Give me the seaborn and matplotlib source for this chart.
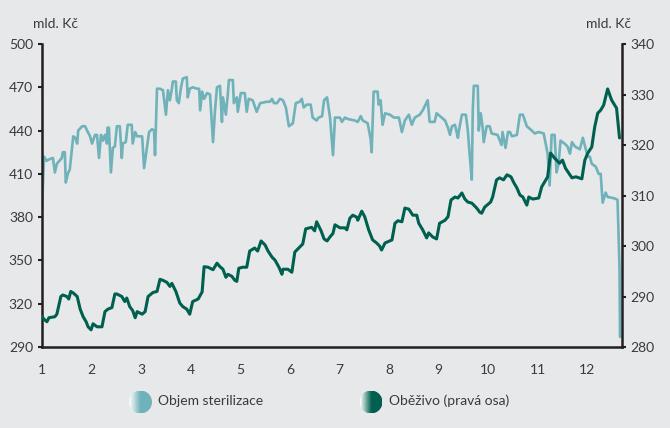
import numpy as np
import pandas as pd
import matplotlib
matplotlib.use("Agg")
import matplotlib.pyplot as plt
from matplotlib.patches import Circle
from matplotlib.colors import LinearSegmentedColormap
import seaborn as sns

# ---- data ----
steril_x = [1.00, 1.04, 1.09, 1.14, 1.22, 1.26, 1.30, 1.40, 1.42, 1.46, 1.48, 1.52, 1.56, 1.63, 1.67,
            1.71, 1.73, 1.81, 1.87, 1.91, 1.97, 2.01, 2.07, 2.11, 2.15, 2.19, 2.23, 2.27, 2.31, 2.32,
            2.35, 2.39, 2.43, 2.47, 2.51, 2.57, 2.61, 2.63, 2.69, 2.73, 2.81, 2.83, 2.88, 2.92, 3.02,
            3.06, 3.12, 3.16, 3.22, 3.26, 3.28, 3.32, 3.38, 3.44, 3.50, 3.54, 3.58, 3.62, 3.64, 3.70,
            3.72, 3.76, 3.80, 3.84, 3.92, 3.94, 3.98, 4.04, 4.13, 4.17, 4.19, 4.23, 4.27, 4.33, 4.39,
            4.45, 4.49, 4.53, 4.59, 4.63, 4.65, 4.71, 4.75, 4.77, 4.85, 4.87, 4.93, 4.95, 5.01, 5.09,
            5.13, 5.17, 5.25, 5.33, 5.40, 5.54, 5.60, 5.64, 5.68, 5.74, 5.80, 5.86, 5.92, 5.98, 6.06,
            6.12, 6.20, 6.24, 6.28, 6.34, 6.42, 6.46, 6.54, 6.58, 6.65, 6.69, 6.75, 6.81, 6.87, 6.91,
            7.01, 7.05, 7.11, 7.17, 7.31, 7.37, 7.43, 7.47, 7.57, 7.63, 7.65, 7.69, 7.77, 7.79, 7.83,
            7.87, 7.92, 8.02, 8.10, 8.20, 8.26, 8.32, 8.40, 8.46, 8.52, 8.62, 8.68, 8.78, 8.82, 8.92,
            8.96, 9.06, 9.13, 9.19, 9.23, 9.27, 9.33, 9.39, 9.41, 9.47, 9.55, 9.59, 9.63, 9.67, 9.69,
            9.71, 9.79, 9.81, 9.85, 9.89, 9.91, 9.97, 10.03, 10.07, 10.19, 10.27, 10.29, 10.35, 10.40,
            10.44, 10.48, 10.58, 10.64, 10.70, 10.78, 10.88, 10.94, 11.02, 11.12, 11.16, 11.20, 11.24,
            11.28, 11.34, 11.38, 11.42, 11.46, 11.54, 11.60, 11.65, 11.69, 11.75, 11.85, 11.91, 11.97,
            12.01, 12.05, 12.09, 12.17, 12.23, 12.27, 12.31, 12.37, 12.41, 12.55, 12.61, 12.65, 12.66]
steril_y = [385, 422, 419, 420, 421, 411, 417, 421, 425, 425, 404, 410, 413, 436, 435,
            431, 440, 443, 443, 440, 436, 431, 437, 437, 421, 437, 433, 437, 431, 442,
            442, 411, 428, 429, 443, 443, 421, 431, 432, 444, 444, 431, 439, 436, 436,
            414, 429, 439, 441, 440, 423, 469, 469, 468, 451, 468, 461, 469, 474, 474,
            461, 459, 469, 476, 477, 463, 469, 470, 469, 469, 454, 467, 462, 466, 465,
            432, 454, 470, 471, 446, 463, 451, 466, 475, 475, 459, 463, 453, 466, 466,
            453, 462, 461, 453, 459, 460, 460, 462, 459, 459, 462, 461, 456, 443, 445,
            459, 460, 462, 456, 458, 458, 449, 447, 449, 450, 461, 463, 449, 423, 449,
            449, 446, 449, 448, 447, 446, 450, 447, 445, 434, 425, 467, 467, 458, 461,
            444, 452, 451, 449, 449, 439, 447, 451, 444, 449, 451, 454, 461, 446, 446,
            452, 449, 447, 442, 437, 443, 444, 435, 440, 451, 451, 440, 422, 406, 454,
            471, 471, 440, 452, 442, 432, 443, 443, 438, 437, 430, 439, 428, 439,
            439, 436, 437, 451, 451, 443, 440, 438, 439, 438, 431, 424, 402,
            437, 437, 411, 417, 433, 431, 429, 424, 432, 429, 427, 435, 427,
            422, 422, 417, 415, 410, 410, 390, 397, 394, 393, 392, 345, 297]

obez_x = [1.00, 1.04, 1.10, 1.14, 1.26, 1.30, 1.38, 1.42, 1.50, 1.54, 1.58, 1.63, 1.71, 1.77, 1.83,
          1.89, 1.93, 1.99, 2.03, 2.11, 2.21, 2.27, 2.33, 2.41, 2.47, 2.51, 2.61, 2.67, 2.71, 2.77,
          2.83, 2.88, 2.92, 3.02, 3.08, 3.14, 3.24, 3.32, 3.38, 3.44, 3.52, 3.58, 3.62, 3.70, 3.78,
          3.84, 3.92, 3.98, 4.04, 4.15, 4.23, 4.27, 4.35, 4.45, 4.53, 4.59, 4.65, 4.71, 4.75, 4.83,
          4.89, 4.93, 4.97, 5.05, 5.13, 5.19, 5.29, 5.35, 5.42, 5.50, 5.56, 5.64, 5.70, 5.78, 5.84,
          5.86, 5.96, 6.04, 6.10, 6.20, 6.26, 6.32, 6.44, 6.50, 6.54, 6.63, 6.69, 6.75, 6.81, 6.87,
          6.91, 7.01, 7.11, 7.15, 7.21, 7.27, 7.35, 7.37, 7.45, 7.51, 7.59, 7.67, 7.75, 7.81, 7.85,
          7.92, 8.06, 8.12, 8.18, 8.26, 8.32, 8.40, 8.48, 8.56, 8.60, 8.68, 8.76, 8.80, 8.88, 8.96,
          9.02, 9.13, 9.19, 9.25, 9.33, 9.39, 9.47, 9.53, 9.59, 9.67, 9.77, 9.83, 9.87, 9.93, 10.05,
          10.09, 10.17, 10.23, 10.31, 10.38, 10.46, 10.52, 10.58, 10.64, 10.70, 10.78, 10.82, 10.90,
          11.02, 11.08, 11.14, 11.20, 11.26, 11.34, 11.44, 11.50, 11.56, 11.65, 11.69, 11.77, 11.89,
          11.95, 12.01, 12.09, 12.15, 12.21, 12.27, 12.33, 12.41, 12.49, 12.59, 12.65]
obez_y = [286.1, 285.5, 285.0, 285.8, 286.0, 286.5, 290.0, 290.3, 290.0, 289.5, 291.0, 290.7, 290.0, 287.5, 286.0,
          285.0, 284.0, 283.4, 284.6, 284.0, 284.0, 287.0, 287.5, 287.8, 290.5, 290.5, 290.0, 289.0, 289.7, 288.0,
          287.2, 285.8, 287.0, 286.5, 287.0, 290.0, 290.8, 291.0, 293.4, 293.2, 292.8, 292.0, 292.6, 291.0, 288.7,
          288.0, 287.5, 286.5, 289.0, 289.5, 290.9, 295.9, 295.8, 295.3, 296.6, 295.9, 295.4, 293.8, 294.4, 294.0,
          293.2, 293.0, 295.6, 295.8, 295.8, 299.0, 299.6, 299.0, 301.0, 300.2, 299.0, 297.8, 297.2, 295.8, 294.4,
          295.4, 295.4, 294.8, 298.8, 299.8, 300.4, 303.4, 303.7, 303.0, 304.8, 303.0, 301.4, 301.0, 301.8, 302.5,
          304.2, 303.6, 303.6, 303.2, 305.5, 306.1, 305.7, 305.1, 306.9, 305.8, 303.2, 301.2, 300.6, 300.0, 299.2,
          300.6, 301.2, 304.5, 305.0, 304.8, 307.5, 307.3, 306.1, 306.1, 304.5, 303.2, 301.6, 302.6, 301.8, 301.4,
          304.5, 305.1, 305.8, 309.1, 309.7, 309.5, 310.5, 309.3, 308.7, 308.5, 307.5, 306.7, 306.5, 307.7, 308.7,
          309.7, 313.1, 313.5, 313.1, 314.1, 313.7, 312.5, 311.5, 310.1, 309.7, 308.1, 309.7, 309.3,
          309.5, 311.7, 312.7, 313.7, 318.4, 317.4, 316.4, 317.0, 315.4, 314.1, 313.5, 313.7, 313.3,
          317.0, 318.4, 319.6, 323.6, 326.3, 326.9, 327.9, 331.1, 328.9, 327.3, 321.4]

left_ticks = [290, 320, 350, 380, 410, 440, 470, 500]
right_ticks = [280, 290, 300, 310, 320, 330, 340]
x_ticks = list(range(1, 13))
series_names = ["Objem sterilizace", "Oběživo (pravá osa)"]
unit_label = "mld. Kč"

# ---- style ----
BG = "#e6e8e9"
LIGHT = "#6fb2ba"
DARK = "#00604f"
TXT = "#3a3a3a"
SPINE = "#231f20"

sns.set_theme(style="white")
plt.rcParams["font.family"] = ["Lato", "DejaVu Sans"]
plt.rcParams["figure.facecolor"] = BG
plt.rcParams["axes.facecolor"] = BG

fig = plt.figure(figsize=(6.70, 4.28), dpi=100)
ax = fig.add_axes([42/670, 1 - 347/428, 580/670, 303/428])
ax2 = ax.twinx()

df1 = pd.DataFrame({"x": steril_x, "y": steril_y})
df2 = pd.DataFrame({"x": obez_x, "y": obez_y})
sns.lineplot(data=df1, x="x", y="y", ax=ax, color=LIGHT, lw=1.9,
             estimator=None, sort=False)
sns.lineplot(data=df2, x="x", y="y", ax=ax2, color=DARK, lw=2.2,
             estimator=None, sort=False)

ax.set_xlim(1, 12.70)
ax.set_ylim(290, 500)
ax2.set_ylim(280, 340)
ax.set_yticks(left_ticks)
ax2.set_yticks(right_ticks)
ax.set_xticks(x_ticks)
for a in (ax, ax2):
    a.set_xlabel("")
    a.set_ylabel("")
    a.patch.set_alpha(0)
    for s in a.spines.values():
        s.set_visible(False)
ax.patch.set_alpha(1)
ax.spines["left"].set_visible(True)
ax.spines["bottom"].set_visible(True)
ax2.spines["right"].set_visible(True)
for s in (ax.spines["left"], ax.spines["bottom"], ax2.spines["right"]):
    s.set_color(SPINE)
    s.set_linewidth(1.8)

ax.tick_params(axis="y", direction="out", length=3, width=1.5, color=SPINE,
               labelsize=10, labelcolor=TXT, pad=3.5, left=True)
ax.tick_params(axis="x", length=0, labelsize=10, labelcolor=TXT, pad=12, bottom=True)
ax2.tick_params(axis="y", direction="out", length=3, width=1.5, color=SPINE,
                labelsize=10, labelcolor=TXT, pad=3, right=True)
ax.grid(False)
ax2.grid(False)

fig.text(33/670, 1 - 24/428, unit_label, fontsize=10, color=TXT, ha="left", va="center")
fig.text(631/670, 1 - 24/428, unit_label, fontsize=10, color=TXT, ha="right", va="center")

# ---- legend with gradient circles ----
def grad_circle(cx, cy, color):
    d = 23
    cax = fig.add_axes([(cx - d/2)/670, 1 - (cy + d/2)/428, d/670, d/428])
    cax.set_axis_off()
    cmap = LinearSegmentedColormap.from_list("g", ["#ffffff", color, color])
    grad = np.linspace(0, 1, 64)[None, :].repeat(64, axis=0)
    im = cax.imshow(grad, cmap=cmap, extent=(0, 1, 0, 1), aspect="auto")
    circ = Circle((0.5, 0.5), 0.5, transform=cax.transAxes)
    im.set_clip_path(circ)

grad_circle(140.5, 402, LIGHT)
grad_circle(371, 402, DARK)
fig.text(158/670, 1 - 401/428, series_names[0], fontsize=10, color=TXT, ha="left", va="center")
fig.text(389/670, 1 - 401/428, series_names[1], fontsize=10, color=TXT, ha="left", va="center")

fig.savefig("out.png", dpi=100, facecolor=BG)
